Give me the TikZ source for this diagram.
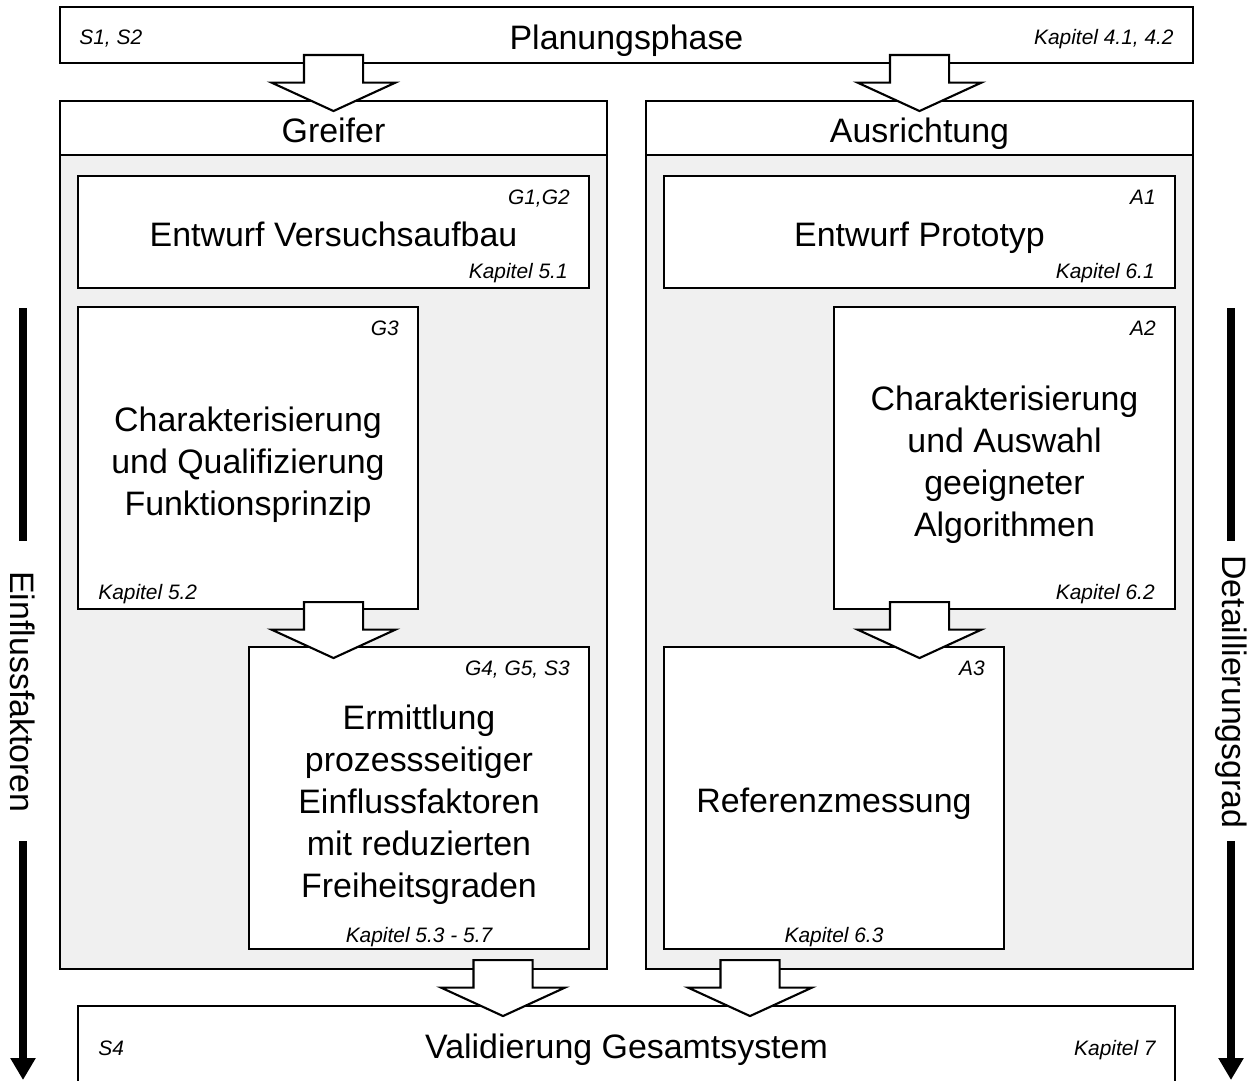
\documentclass[tikz,border=0pt]{standalone}
\usepackage{fontspec}
\setmainfont{Liberation Sans}
\usetikzlibrary{arrows.meta, positioning, shapes.arrows}
\definecolor{panelgray}{HTML}{F0F0F0}
\tikzset{
    every node/.style={inner sep=0pt, font=\fontsize{19.3}{23.9}\selectfont},
    box/.style={draw, line width=1.2pt, fill=white, align=center},
    oneline/.style={text height=0.6cm, text depth=0.02cm},
    panel/.style={draw, line width=1.2pt, fill=panelgray},
    boxtext/.style={align=center},
    tag/.style={font=\fontsize{11.9}{14}\selectfont\itshape},
    blockarr/.style={single arrow, draw, fill=white, line width=1.2pt,
        rotate=-90, anchor=tail, inner xsep=0pt, inner ysep=0.57cm,
        minimum height=1.12cm, minimum width=2.44cm,
        single arrow head extend=0.65cm, single arrow tip angle=130.7
    },
    sideline/.style={line width=4.5pt},
    sidearr/.style={line width=4.5pt, -{Triangle[width=0.48cm, length=0.44cm]}},
    sidelabel/.style={rotate=-90}
}
\begin{document}
\begin{tikzpicture}[x=0.02cm, y=-0.02cm]
    \useasboundingbox (0,0) rectangle (1250,1081);

    \node[box, oneline, minimum width=22.66cm, minimum height=1.12cm] (plan) at (626.5,35) {Planungsphase};
    \node[tag, anchor=base west] (plantag) at ([shift={(20,10)}]plan.west) {S1, S2};
    \node[tag, anchor=base east] (plankap) at ([shift={(-20,10)}]plan.east) {Kapitel 4.1, 4.2};

    \node[panel, minimum width=10.94cm, minimum height=17.36cm] (gpanel) at (333.5,535) {};
    \node[box, oneline, minimum width=10.94cm, minimum height=1.08cm] (ghead) at (333.5,128) {Greifer};
    \node[panel, minimum width=10.94cm, minimum height=17.36cm] (apanel) at (919.5,535) {};
    \node[box, oneline, minimum width=10.94cm, minimum height=1.08cm] (ahead) at (919.5,128) {Ausrichtung};

    \node[box, oneline, minimum width=10.22cm, minimum height=2.24cm] (g12) at (333.5,232) {Entwurf Versuchsaufbau};
    \node[tag, anchor=north east] (g12tag) at ([shift={(-20,15)}]g12.north east) {G1,G2};
    \node[tag, anchor=base east] (g12kap) at ([shift={(-22,-11)}]g12.south east) {Kapitel 5.1};

    \node[box, oneline, minimum width=10.22cm, minimum height=2.24cm] (a1) at (919.5,232) {Entwurf Prototyp};
    \node[tag, anchor=north east] (a1tag) at ([shift={(-20,15)}]a1.north east) {A1};
    \node[tag, anchor=base east] (a1kap) at ([shift={(-21,-11)}]a1.south east) {Kapitel 6.1};

    \node[box, minimum width=6.8cm, minimum height=6.04cm] (g3) at (248,458) {};
    \node[boxtext] (g3txt) at ([shift={(0,7)}]g3.center)
        {Charakterisierung\\und Qualifizierung\\Funktionsprinzip};
    \node[tag, anchor=north east] (g3tag) at ([shift={(-20,15)}]g3.north east) {G3};
    \node[tag, anchor=base west] (g3kap) at ([shift={(21,-11)}]g3.south west) {Kapitel 5.2};

    \node[box, minimum width=6.8cm, minimum height=6.04cm] (g4) at (419,798) {};
    \node[boxtext] (g4txt) at ([shift={(0,7)}]g4.center)
        {Ermittlung\\prozessseitiger\\Einflussfaktoren\\mit reduzierten\\Freiheitsgraden};
    \node[tag, anchor=north east] (g4tag) at ([shift={(-20,15)}]g4.north east) {G4,\ G5, S3};
    \node[tag, anchor=base] (g4kap) at ([shift={(0,-8)}]g4.south) {Kapitel 5.3 - 5.7};

    \node[box, minimum width=6.82cm, minimum height=6.04cm] (a2) at (1004.5,458) {};
    \node[boxtext] (a2txt) at ([shift={(0,7)}]a2.center)
        {Charakterisierung\\und Auswahl\\geeigneter\\Algorithmen};
    \node[tag, anchor=north east] (a2tag) at ([shift={(-20,15)}]a2.north east) {A2};
    \node[tag, anchor=base east] (a2kap) at ([shift={(-21,-11)}]a2.south east) {Kapitel 6.2};

    \node[box, oneline, minimum width=6.8cm, minimum height=6.04cm] (a3) at (834,798) {Referenzmessung};
    \node[tag, anchor=north east] (a3tag) at ([shift={(-20,15)}]a3.north east) {A3};
    \node[tag, anchor=base] (a3kap) at ([shift={(0,-8)}]a3.south) {Kapitel 6.3};

    \node[box, oneline, minimum width=21.94cm, minimum height=1.52cm] (valid) at (626.5,1044) {Validierung Gesamtsystem};
    \node[tag, anchor=base west] (validtag) at ([shift={(21,11)}]valid.west) {S4};
    \node[tag, anchor=base east] (validkap) at ([shift={(-20,11)}]valid.east) {Kapitel 7};

    \node[blockarr] (p2g) at (333.5,54) {};
    \node[blockarr] (p2a) at (919.5,54) {};
    \node[blockarr] (g3g4) at (333.5,601) {};
    \node[blockarr] (a2a3) at (919.5,601) {};
    \node[blockarr] (g2v) at (503,959) {};
    \node[blockarr] (a2v) at (750,959) {};

    \coordinate (lt) at (23,308);
    \coordinate (lm1) at (23,541);
    \coordinate (lm2) at (23,841);
    \coordinate (lb) at (23,1080);
    \node[sidelabel] (einfl) at (23,692) {Einflussfaktoren};
    \draw[sideline] (lt) -- (lm1);
    \draw[sidearr] (lm2) -- (lb);

    \coordinate (rt) at (1231,308);
    \coordinate (rm1) at (1231,541);
    \coordinate (rm2) at (1231,841);
    \coordinate (rb) at (1231,1080);
    \node[sidelabel] (detail) at (1231,692) {Detaillierungsgrad};
    \draw[sideline] (rt) -- (rm1);
    \draw[sidearr] (rm2) -- (rb);
\end{tikzpicture}
\end{document}
